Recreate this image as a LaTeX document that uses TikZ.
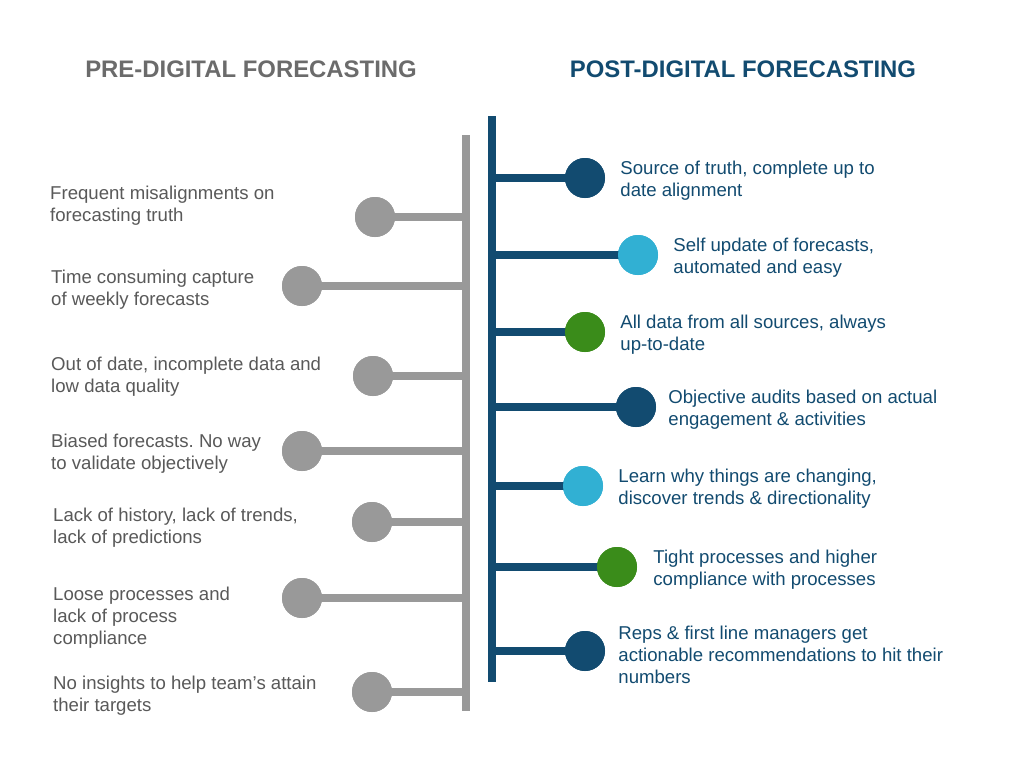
\documentclass[tikz,border=0pt]{standalone}
\usepackage{fontspec}
\setmainfont{Liberation Sans}
\usetikzlibrary{positioning}
\frenchspacing
\definecolor{predgray}{HTML}{999999}
\definecolor{pretext}{HTML}{595959}
\definecolor{pretitle}{HTML}{6B6B6B}
\definecolor{postblue}{HTML}{124B70}
\definecolor{postcyan}{HTML}{31B0D3}
\definecolor{postgreen}{HTML}{3A8C1A}
\begin{document}
\begin{tikzpicture}[x=1pt,y=-1pt,
  dot/.style={circle,fill=#1,minimum size=40pt,inner sep=0pt},
  pretxt/.style={anchor=west,align=left,text=pretext,inner sep=0pt,
    font=\fontsize{18.6pt}{22pt}\selectfont},
  posttxt/.style={anchor=west,align=left,text=postblue,inner sep=0pt,yshift=-3pt,
    font=\fontsize{18.6pt}{22pt}\selectfont},
  ttl/.style={font=\fontsize{23.9pt}{28pt}\selectfont\bfseries}]
  \useasboundingbox[fill=white] (0,0) rectangle (1024,768);
  % titles
  \node[ttl,text=pretitle] (pretitle) at (251,69) {PRE-DIGITAL FORECASTING};
  \node[ttl,text=postblue] (posttitle) at (743,69) {POST-DIGITAL FORECASTING};
  % spines
  \coordinate (gtop) at (466,135);
  \coordinate (gbot) at (466,711);
  \coordinate (btop) at (492,116);
  \coordinate (bbot) at (492,682);
  \draw[predgray,line width=7.5pt] (gtop) -- (gbot);
  \draw[postblue,line width=7.5pt] (btop) -- (bbot);
  % pre-digital branches
  \foreach \i/\x/\y in {1/375/217,2/302/286,3/373/376,4/302/451,5/372/522,6/302/598,7/372/692}{
    \node[dot=predgray] (p\i) at (\x,\y) {};
    \draw[predgray,line width=7.5pt] (p\i.center) -- (p\i -| gtop);
    \node[dot=predgray] at (p\i) {};
  }
  \node[pretxt] (l1) at (50,206) {Frequent misalignments on\\forecasting truth};
  \node[pretxt] (l2) at (51,290) {Time consuming capture\\of weekly forecasts};
  \node[pretxt] (l3) at (51,377) {Out of date, incomplete data and\\low data quality};
  \node[pretxt] (l4) at (51,454) {Biased forecasts. No way\\to validate objectively};
  \node[pretxt] (l5) at (53,528) {Lack of history, lack of trends,\\lack of predictions};
  \node[pretxt] (l6) at (53,618) {Loose processes and\\lack of process\\compliance};
  \node[pretxt] (l7) at (53,696) {No insights to help team’s attain\\their targets};
  % post-digital branches
  \foreach \i/\x/\y/\c in {1/585/178/postblue,2/638/255/postcyan,3/585/332/postgreen,4/636/407/postblue,5/583/486/postcyan,6/617/567/postgreen,7/585/651/postblue}{
    \node[dot=\c] (q\i) at (\x,\y) {};
    \draw[postblue,line width=7.5pt] (q\i -| btop) -- (q\i.center);
    \node[dot=\c] at (q\i) {};
  }
  \node[posttxt,right=15pt of q1] (r1) {Source of truth, complete up to\\date alignment};
  \node[posttxt,right=15pt of q2] (r2) {Self update of forecasts,\\automated and easy};
  \node[posttxt,right=15pt of q3] (r3) {All data from all sources, always\\up-to-date};
  \node[posttxt,right=12pt of q4] (r4) {Objective audits based on actual\\engagement \& activities};
  \node[posttxt,right=15pt of q5] (r5) {Learn why things are changing,\\discover trends \& directionality};
  \node[posttxt,right=16pt of q6] (r6) {Tight processes and higher\\compliance with processes};
  \node[posttxt,right=13pt of q7,yshift=-1pt] (r7) {Reps \& first line managers get\\actionable recommendations to hit their\\numbers};
\end{tikzpicture}
\end{document}
